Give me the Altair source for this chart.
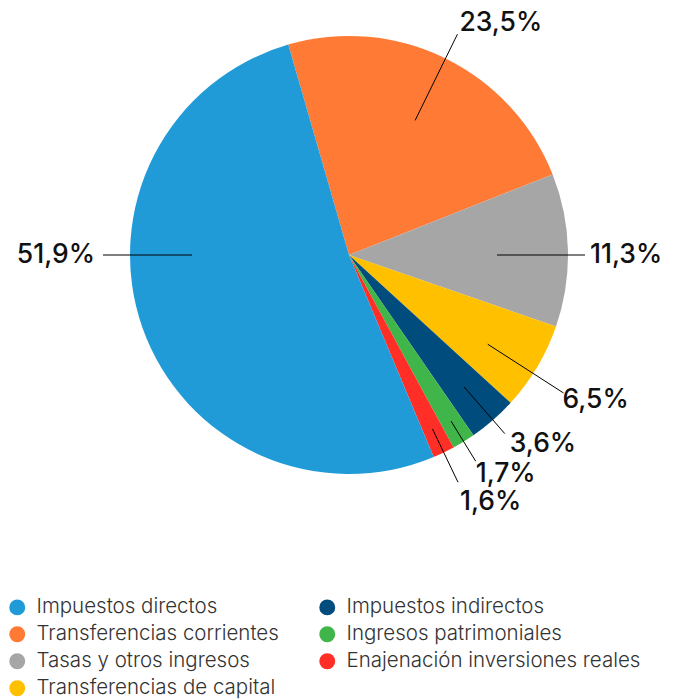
import math
import altair as alt
import pandas as pd

# ---- data ----
categories = [
    "Transferencias corrientes",
    "Tasas y otros ingresos",
    "Transferencias de capital",
    "Impuestos indirectos",
    "Ingresos patrimoniales",
    "Enajenación inversiones reales",
    "Impuestos directos",
]
values = [23.5, 11.3, 6.5, 3.6, 1.7, 1.6, 51.9]
labels = ["23,5%", "11,3%", "6,5%", "3,6%", "1,7%", "1,6%", "51,9%"]
colors = ["#FF7A35", "#A6A6A6", "#FFC000", "#004C7C", "#40B549", "#FF2E26", "#219BD7"]

# legend order (filled column by column)
legend_order = [
    "Impuestos directos",
    "Transferencias corrientes",
    "Tasas y otros ingresos",
    "Transferencias de capital",
    "Impuestos indirectos",
    "Ingresos patrimoniales",
    "Enajenación inversiones reales",
]
color_map = dict(zip(categories, colors))
legend_colors = [color_map[c] for c in legend_order]

df = pd.DataFrame({
    "category": categories,
    "value": values,
    "label": labels,
    "order": list(range(len(categories))),
})

# ---- layout constants ----
CX, CY, R = 349, 255, 219
START = -0.281  # start angle of first slice (radians, clockwise from 12 o'clock)
FONT = "Inter"

# label-line geometry per slice (inner radius, outer radius), text offsets
r1_expr = ("datum.order == 0 ? 150 : datum.order == 1 ? 148 : datum.order == 2 ? 165 : "
           "datum.order == 3 ? 175 : datum.order == 4 ? 195 : datum.order == 5 ? 193 : 157")
r2_expr = ("datum.order == 0 ? 246 : datum.order == 1 ? 236 : datum.order == 2 ? 255 : "
           "datum.order == 3 ? 237 : datum.order == 4 ? 242 : datum.order == 5 ? 252 : 246")
la_expr = ("datum.order == 6 ? 1.5*PI : datum.order == 1 ? 0.5*PI : "
           "datum.order == 2 ? datum.mid + 0.035 : datum.mid")
tdx_expr = "datum.order == 2 ? -1 : datum.order == 3 ? 5 : datum.order == 5 ? 2 : 0"
tdy_expr = "datum.order == 2 ? -6 : datum.order == 3 ? -3 : datum.order == 5 ? 7 : 0"

base = (
    alt.Chart(df)
    .transform_window(cum="sum(value)", sort=[alt.SortField("order")], frame=[None, 0])
    .transform_joinaggregate(total="sum(value)")
    .transform_calculate(
        a0=f"{START} + 2*PI*(datum.cum - datum.value)/datum.total",
        a1=f"{START} + 2*PI*datum.cum/datum.total",
    )
    .transform_calculate(mid="(datum.a0 + datum.a1)/2")
    .transform_calculate(la=la_expr, r1=r1_expr, r2=r2_expr, tdx=tdx_expr, tdy=tdy_expr)
    .transform_calculate(
        x1=f"{CX} + datum.r1*sin(datum.la)",
        y1=f"{CY} - datum.r1*cos(datum.la)",
        x2=f"{CX} + datum.r2*sin(datum.la)",
        y2=f"{CY} - datum.r2*cos(datum.la)",
    )
    .transform_calculate(tx="datum.x2 + datum.tdx", ty="datum.y2 + datum.tdy")
)

pie = base.mark_arc(radius=R, strokeWidth=0).encode(
    theta=alt.Theta("a0:Q", scale=None),
    theta2=alt.Theta2("a1:Q"),
    x=alt.value(CX),
    y=alt.value(CY),
    color=alt.Color(
        "category:N",
        scale=alt.Scale(domain=legend_order, range=legend_colors),
        legend=alt.Legend(
            title=None,
            orient="none",
            legendX=7,
            legendY=597,
            columns=2,
            columnPadding=38,
            rowPadding=6,
            symbolType="circle",
            symbolSize=254,
            symbolStrokeWidth=0,
            labelFont=FONT,
            labelFontSize=20.5,
            labelFontWeight=300,
            labelColor="#333333",
            labelOffset=9,
            labelLimit=400,
            padding=0,
        ),
    ),
    order=alt.Order("order:Q"),
)

lines = base.mark_rule(color="#000000", strokeWidth=1).encode(
    x=alt.X("x1:Q", scale=None),
    y=alt.Y("y1:Q", scale=None),
    x2="x2:Q",
    y2="y2:Q",
)

def text_layer(orders, **kw):
    return (
        base.transform_filter(alt.FieldOneOfPredicate(field="order", oneOf=orders))
        .mark_text(font=FONT, fontSize=26.5, fontWeight=500, color="#111111", **kw)
        .encode(
            x=alt.X("tx:Q", scale=None),
            y=alt.Y("ty:Q", scale=None),
            text="label:N",
        )
    )

t_top = text_layer([0], align="left", baseline="alphabetic", dx=2, dy=-3)
t_right = text_layer([1], align="left", baseline="middle", dx=5)
t_small = text_layer([2, 3, 4, 5], align="left", baseline="top", dy=0)
t_left = text_layer([6], align="right", baseline="middle", dx=-8)

chart = (
    alt.layer(pie, lines, t_top, t_right, t_small, t_left)
    .properties(width=686, height=700, autosize=alt.AutoSizeParams(type="none"), padding=0)
    .configure_view(stroke=None)
)

chart.save("out.html", embed_options={"renderer": "svg", "actions": False})
